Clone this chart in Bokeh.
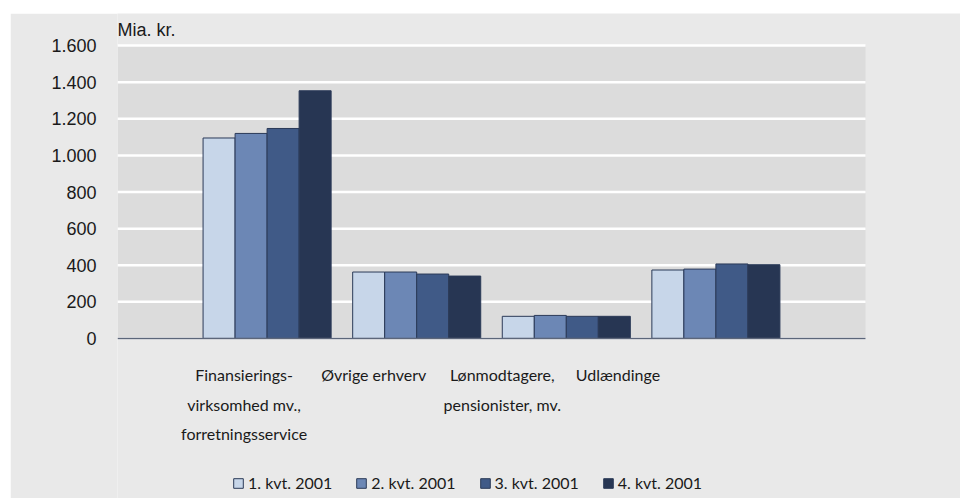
from bokeh.plotting import figure
from bokeh.models import Label, Legend, LegendItem, FixedTicker, ColumnDataSource, BoxAnnotation
from bokeh.embed import file_html
from bokeh.resources import INLINE

# ---- data ----
categories = ["Finansierings-\nvirksomhed mv.,\nforretningsservice",
              "Øvrige erhverv",
              "Lønmodtagere,\npensionister, mv.",
              "Udlændinge"]
series_names = ["1. kvt. 2001", "2. kvt. 2001", "3. kvt. 2001", "4. kvt. 2001"]
q1 = [1095, 363, 121, 374]
q2 = [1120, 363, 126, 379]
q3 = [1147, 352, 121, 407]
q4 = [1353, 341, 121, 403]
y_ticks = [0, 200, 400, 600, 800, 1000, 1200, 1400, 1600]
y_tick_labels = ["0", "200", "400", "600", "800", "1.000", "1.200", "1.400", "1.600"]
unit_label = "Mia. kr."

# ---- style ----
colors = ["#c7d6e9", "#6c87b5", "#405a87", "#273653"]
label_x_offsets = [-23, -43, -64, -98]
bar_w = 0.214
TXT = "#1a1a1a"
COND = "Lato"
REG = "Liberation Sans"
PANEL = "#e9e9e9"
# frame extends beyond the value area so texts around it are not clipped
x_lo, x_hi = 0, 5.635
y_lo, y_hi = -874, 1775

p = figure(width=950, height=485, x_range=(x_lo, x_hi), y_range=(y_lo, y_hi),
           output_backend="svg", toolbar_location=None,
           min_border_left=107, min_border_right=0,
           min_border_top=0, min_border_bottom=0)
p.margin = (13, 0, 0, 10)
p.background_fill_color = PANEL
p.border_fill_color = PANEL
p.outline_line_color = None

n = len(categories)
area_l, area_r = 0, n + 1

# plot area background between first and last tick
p.add_layout(BoxAnnotation(left=area_l, right=area_r, bottom=y_ticks[0], top=y_ticks[-1],
                           fill_color="#dcdcdc", fill_alpha=1, line_color=None, level="image"))

# grid lines
p.segment(x0=[area_l] * len(y_ticks), x1=[area_r] * len(y_ticks), y0=y_ticks, y1=y_ticks,
          line_color="white", line_width=2.5, level="underlay")

xs = list(range(1, n + 1))
renderers = []
for j, vals in enumerate([q1, q2, q3, q4]):
    src = ColumnDataSource(dict(x=[x + (j - 1.5) * bar_w for x in xs], top=vals))
    r = p.vbar(x="x", top="top", width=bar_w, source=src,
               fill_color=colors[j], line_color="#2b3a58", line_width=1)
    renderers.append(r)

# baseline
p.segment(x0=[area_l], x1=[area_r], y0=[y_ticks[0]], y1=[y_ticks[0]],
          line_color="#5c667a", line_width=1.5)

# axes
p.yaxis.ticker = FixedTicker(ticks=y_ticks)
p.yaxis.major_label_overrides = {t: l for t, l in zip(y_ticks, y_tick_labels)}
p.yaxis.axis_line_color = None
p.yaxis.major_tick_line_color = None
p.yaxis.minor_tick_line_color = None
p.yaxis.major_label_standoff = 15
p.yaxis.major_label_text_font = REG
p.yaxis.major_label_text_font_size = "18px"
p.yaxis.major_label_text_color = TXT
p.xaxis.visible = False
p.xgrid.visible = False
p.ygrid.visible = False

# unit label
p.add_layout(Label(x=0, y=y_ticks[-1], x_offset=0, y_offset=6, text=unit_label,
                   text_font=REG, text_font_size="18px", text_color=TXT,
                   text_baseline="bottom", text_align="left"))

# category labels
for x, cat, off in zip(xs, categories, label_x_offsets):
    p.add_layout(Label(x=x, y=0, x_offset=off, y_offset=-27, text=cat,
                       text_font=COND, text_font_size="16px", text_color=TXT,
                       text_align="center", text_baseline="top",
                       text_line_height=1.55))

legend = Legend(items=[LegendItem(label=nm, renderers=[r]) for nm, r in zip(series_names, renderers)],
                orientation="horizontal", location=(115, 6),
                glyph_width=12, glyph_height=12, label_standoff=4, spacing=23,
                padding=0, margin=0, background_fill_alpha=0, border_line_color=None,
                label_text_font=COND, label_text_font_size="16px", label_text_color=TXT)
p.add_layout(legend, "center")

open("out.html", "w").write(file_html(p, INLINE))
